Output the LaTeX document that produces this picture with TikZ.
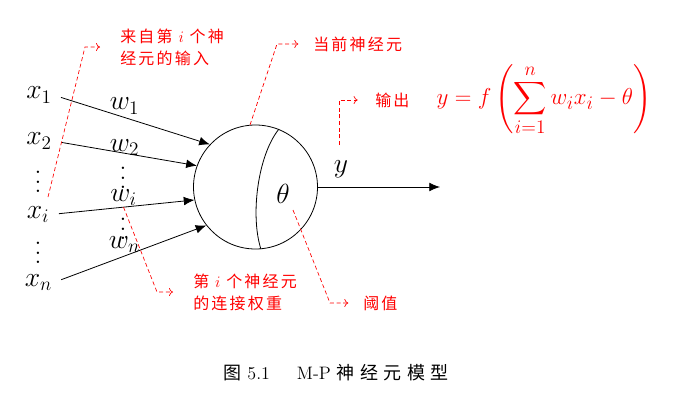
\documentclass[tikz,border=0pt]{standalone}
\usepackage{amsmath}
\usepackage{fontspec}
\newfontfamily\cjk{Noto Sans CJK SC}
\usetikzlibrary{arrows.meta}
\tikzset{
  lbl/.style={font=\huge, inner sep=1pt},
  dts/.style={inner sep=0pt},
  syn/.style={-{Latex[length=8pt,width=6.5pt]}, line width=0.6pt},
  note/.style={red, densely dashed, line width=0.5pt, -{To[length=3pt,width=6pt]}},
  notetext/.style={red, inner sep=0pt, align=left,
    font={\cjk\addfontfeature{LetterSpace=14}\fontsize{12}{16.5}\selectfont}}
}
\begin{document}
\begin{tikzpicture}[x=0.75pt,y=-0.75pt]
  \useasboundingbox (0,0) rectangle (676,411);
  \node[draw, circle, minimum size=93pt, inner sep=0pt, line width=0.6pt] (neuron) at (255.5,187) {};
  \draw[line width=0.6pt] (neuron.68) .. controls (258,155) and (250,215) .. (neuron.-85);
  \draw
    (39,95) node[lbl] (x1) {$x_1$}
    (39,141) node[lbl] (x2) {$x_2$}
    (38,175) node[dts] (xd1) {\scalebox{1.7}{$\vdots$}}
    (38,214.5) node[lbl] (xi) {$x_i$}
    (38,246) node[dts] (xd2) {\scalebox{1.7}{$\vdots$}}
    (38.5,282.5) node[lbl] (xn) {$x_n$};
  \draw
    (124.5,106) node[lbl] (w1) {$w_1$}
    (124.5,147.5) node[lbl] (w2) {$w_2$}
    (123,171) node[dts] (wd1) {\scalebox{1.7}{$\vdots$}}
    (123.5,197.5) node[lbl] (wi) {$w_i$}
    (123,222) node[dts] (wd2) {\scalebox{1.7}{$\vdots$}}
    (124.5,244.5) node[lbl] (wn) {$w_n$};
  \node[lbl] (theta) at (283,194) {$\theta$};
  \node[lbl] (y) at (341,169) {$y$};
  \coordinate (out) at (440,187);
  \begin{scope}[syn, shorten <=6pt]
    \draw (x1.east) -- (neuron.137);
    \draw (x2.east) -- (neuron.160);
    \draw (xi.east) -- (neuron.192.5);
    \draw (xn.east) -- (neuron.218.5);
  \end{scope}
  \draw[syn] (neuron.east) -- (out);
  \node[notetext, anchor=west] (lin) at (120,47) {来自第 $i$ 个神\\经元的输入};
  \node[notetext, anchor=west] (lcur) at (313,44) {当前神经元};
  \node[notetext, anchor=west] (lout) at (375,100) {输出};
  \node[red, font=\fontsize{19}{23}\selectfont] (fml) at (544,100) {$\displaystyle y=f\left(\sum_{i=1}^{n}w_ix_i-\theta\right)$};
  \node[notetext, anchor=west] (lw) at (193,292) {第 $i$ 个神经元\\的连接权重};
  \node[notetext, anchor=west] (lth) at (363,303) {阈值};
  \coordinate (s1) at (48,197);
  \coordinate (b1) at (85,0);
  \coordinate (s3) at (339,145);
  \coordinate (b2) at (277,0);
  \coordinate (b4) at (157,0);
  \coordinate (s5) at (293,210);
  \coordinate (b5) at (330,0);
  \draw[note, shorten >=15pt] (s1) -- (b1 |- lin.west) -- (lin.west);
  \draw[note, shorten >=11pt] (neuron.95) -- (b2 |- lcur.west) -- (lcur.west);
  \draw[note, shorten >=13pt] (s3) -- (s3 |- lout.west) -- (lout.west);
  \draw[note, shorten >=15pt] (wi.south) -- (b4 |- lw.west) -- (lw.west);
  \draw[note, shorten >=11pt] (s5) -- (b5 |- lth.west) -- (lth.west);
  \node[font=\fontsize{13.5}{15}\selectfont] (cap) at (336,373)
    {{\cjk 图}~5.1\hspace{1.5em}M-P {\cjk\addfontfeature{LetterSpace=30}神经元模型}};
\end{tikzpicture}
\end{document}
